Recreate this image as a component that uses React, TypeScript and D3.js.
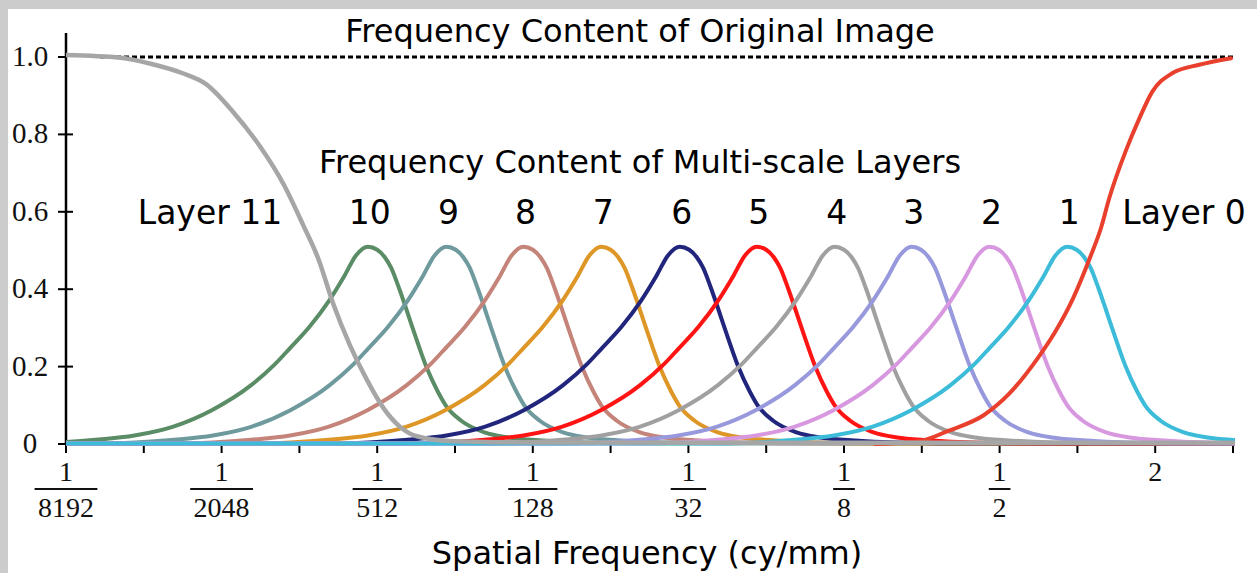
import React from 'react';
import * as d3 from 'd3';

const W = 1257;
const H = 573;

// x axis (spatial frequency, cy/mm) as powers of two
const xMajorExps = [-13, -11, -9, -7, -5, -3, -1, 1];
const xMajorNums = ['1', '1', '1', '1', '1', '1', '1', '2'];
const xMajorDens = ['8192', '2048', '512', '128', '32', '8', '2', ''];
const xMinorExps = [-12, -10, -8, -6, -4, -2, 0, 2];

const yTicks = [0, 0.2, 0.4, 0.6, 0.8, 1.0];
const yTickLabels = ['0', '0.2', '0.4', '0.6', '0.8', '1.0'];

// multi-scale layers 1..10: peak location (log2 cy/mm) and colour
const layerNames = ['1', '2', '3', '4', '5', '6', '7', '8', '9', '10'];
const layerPeakExp = [-0.13, -1.13, -2.13, -3.12, -4.12, -5.11, -6.12, -7.12, -8.11, -9.12];
const layerColors = ['#3cbcd8', '#d898e0', '#9898dc', '#a0a0a0', '#ff1414', '#21267c', '#de9626', '#c4847a', '#6e9a9e', '#5a8c66'];

// band shape: offset from peak (octaves) -> value
const bandOffsets = [-4.5, -4, -3.5, -3, -2.5, -2, -1.5, -1.2, -1, -0.75, -0.5, -0.3, -0.15, 0, 0.12, 0.22, 0.3, 0.4, 0.5, 0.6, 0.75, 0.9, 1.0, 1.2, 1.5, 1.8, 2.2, 2.8, 3.5];
const bandValues = [0.001, 0.004, 0.011, 0.022, 0.045, 0.088, 0.152, 0.205, 0.248, 0.303, 0.37, 0.435, 0.488, 0.51, 0.502, 0.482, 0.455, 0.403, 0.345, 0.285, 0.2, 0.135, 0.1, 0.06, 0.03, 0.017, 0.01, 0.004, 0.002];

// frequency content of the original image (grey)
const originalExp = [-13, -12.3, -11.9, -11.5, -11.2, -10.86, -10.51, -10.2, -9.95, -9.75, -9.57, -9.35, -9.13, -8.93, -8.71, -8.49, -8.07, -7, -4, 2];
const originalValues = [1.005, 0.998, 0.982, 0.958, 0.93, 0.86, 0.77, 0.67, 0.565, 0.475, 0.365, 0.255, 0.165, 0.096, 0.045, 0.02, 0.008, 0.004, 0.003, 0.003];

// layer 0 (high-pass, red-orange)
const layer0Exp = [-2.6, -2.02, -1.66, -1.2, -0.876, -0.516, -0.285, -0.054, 0.165, 0.306, 0.409, 0.627, 0.794, 0.961, 1.218, 1.565, 1.976];
const layer0Values = [0.0, 0.008, 0.034, 0.075, 0.13, 0.22, 0.29, 0.377, 0.483, 0.56, 0.635, 0.76, 0.84, 0.91, 0.958, 0.98, 0.997];

const fontSans = '"DejaVu Sans", Verdana, sans-serif';
const fontSerif = '"Liberation Serif", "Times New Roman", serif';

export default function App() {
  const x = d3.scaleLog().base(2).domain([Math.pow(2, -13), Math.pow(2, 2)]).range([66, 1233]);
  const y = d3.scaleLinear().domain([0, 1]).range([444, 57]);

  const line = d3
    .line<[number, number]>()
    .x((d) => x(Math.pow(2, d[0])))
    .y((d) => y(d[1]))
    .curve(d3.curveMonotoneX);

  const layerPaths = layerPeakExp.map((p, i) => {
    const pts: [number, number][] = bandOffsets.map((o, j) => [p + o, bandValues[j]]);
    pts.unshift([-14, 0.001]);
    pts.push([3, 0.001]);
    return { d: line(pts) as string, color: layerColors[i], name: layerNames[i], peak: p };
  });

  const origPath = line(originalExp.map((e, i) => [e, originalValues[i]] as [number, number])) as string;
  const layer0Path = line(layer0Exp.map((e, i) => [e, layer0Values[i]] as [number, number])) as string;

  const x0 = x(Math.pow(2, -13));
  const x1 = x(Math.pow(2, 2));

  return (
    <svg width={W} height={H} style={{ position: 'absolute', left: 0, top: 0, display: 'block' }}>
      <defs>
        <clipPath id="plotClip">
          <rect x={x0} y={0} width={x1 - x0 + 2} height={y(0) + 3} />
        </clipPath>
      </defs>
      <rect x={0} y={0} width={W} height={H} fill="#cccccc" />
      <rect x={8} y={9} width={W - 8} height={H - 9} fill="#ffffff" />

      {/* dotted reference at 1.0 */}
      <line x1={100} x2={x1} y1={y(1)} y2={y(1)} stroke="#000" strokeWidth={3} strokeDasharray="5 3" />

      {/* x axis */}
      <line x1={x0} x2={x1} y1={y(0)} y2={y(0)} stroke="#000" strokeWidth={1.5} />
      {xMajorExps.concat(xMinorExps).map((e) => (
        <line key={'t' + e} x1={x(Math.pow(2, e))} x2={x(Math.pow(2, e))} y1={y(0) - 4} y2={y(0) + 9} stroke="#000" strokeWidth={2} />
      ))}
      {xMajorExps.map((e, i) => {
        const cx = x(Math.pow(2, e));
        const den = xMajorDens[i];
        const bw = den.length * 13.7 + 8;
        return (
          <g key={'l' + e} fontFamily={fontSerif} fontSize={28} fill="#111" textAnchor="middle">
            <text x={cx} y={481}>{xMajorNums[i]}</text>
            {den && <line x1={cx - bw / 2} x2={cx + bw / 2} y1={489} y2={489} stroke="#111" strokeWidth={2} />}
            {den && <text x={cx} y={517}>{den}</text>}
          </g>
        );
      })}

      {/* y axis */}
      <line x1={66} x2={66} y1={33} y2={y(0) + 1} stroke="#000" strokeWidth={2.5} />
      {yTicks.map((t, i) => (
        <g key={'y' + t}>
          <line x1={58} x2={t === 1 ? 66 : 73} y1={y(t)} y2={y(t)} stroke="#000" strokeWidth={2} />
          <text x={30} y={y(t) + 9} textAnchor="middle" fontFamily={fontSerif} fontSize={29} fill="#111">
            {yTickLabels[i]}
          </text>
        </g>
      ))}

      {/* curves */}
      <g clipPath="url(#plotClip)" fill="none" strokeLinejoin="round" strokeLinecap="round">
        {layerPaths
          .slice()
          .reverse()
          .map((l) => (
            <path key={'c' + l.name} d={l.d} stroke={l.color} strokeWidth={4} />
          ))}
        <path d={layer0Path} stroke="#e8402c" strokeWidth={4} />
        <path d={origPath} stroke="#a6a6a6" strokeWidth={4.5} />
      </g>

      {/* titles */}
      <text x={640} y={42} textAnchor="middle" fontFamily={fontSans} fontSize={32} fill="#000">
        Frequency Content of Original Image
      </text>
      <text x={640} y={173} textAnchor="middle" fontFamily={fontSans} fontSize={32} fill="#000">
        Frequency Content of Multi-scale Layers
      </text>
      <text x={210} y={224} textAnchor="middle" fontFamily={fontSans} fontSize={33} fill="#000">
        Layer 11
      </text>
      {layerPaths.map((l) => (
        <text key={'n' + l.name} x={x(Math.pow(2, l.peak)) + 2} y={224} textAnchor="middle" fontFamily={fontSans} fontSize={33} fill="#000">
          {l.name}
        </text>
      ))}
      <text x={1184} y={224} textAnchor="middle" fontFamily={fontSans} fontSize={33} fill="#000">
        Layer 0
      </text>
      <text x={647} y={564} textAnchor="middle" fontFamily={fontSans} fontSize={32} fill="#000">
        Spatial Frequency (cy/mm)
      </text>
    </svg>
  );
}
